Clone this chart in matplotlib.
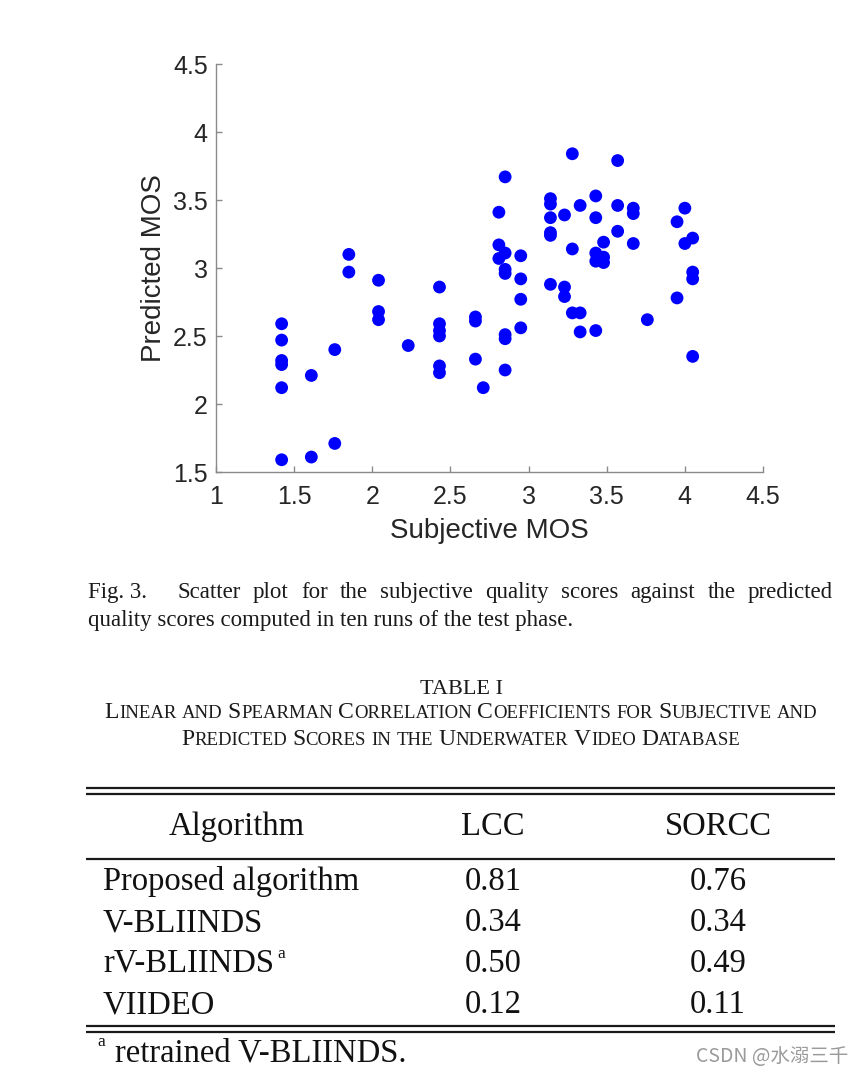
import matplotlib
matplotlib.use('Agg')
import matplotlib.pyplot as plt

# Scatter data
subjective_mos = [1.42, 1.42, 1.42, 1.42, 1.42, 1.42,
                  1.61, 1.61, 1.76, 1.76, 1.85, 1.85,
                  2.04, 2.04, 2.04, 2.23,
                  2.43, 2.43, 2.43, 2.43, 2.43, 2.43,
                  2.66, 2.66, 2.66, 2.71,
                  2.81, 2.81, 2.81,
                  2.85, 2.85, 2.85, 2.85, 2.85, 2.85, 2.85,
                  2.95, 2.95, 2.95, 2.95,
                  3.14, 3.14, 3.14, 3.14, 3.14, 3.14,
                  3.23, 3.23, 3.23, 3.28, 3.28, 3.28,
                  3.33, 3.33, 3.33,
                  3.43, 3.43, 3.43, 3.43, 3.43,
                  3.48, 3.48, 3.48, 3.57, 3.57, 3.57,
                  3.67, 3.67, 3.67, 3.76,
                  3.95, 3.95, 4.00, 4.00,
                  4.05, 4.05, 4.05, 4.05]
predicted_mos = [2.59, 2.47, 2.32, 2.29, 2.12, 1.59,
                 2.21, 1.61, 2.40, 1.71, 3.10, 2.97,
                 2.91, 2.68, 2.62, 2.43,
                 2.86, 2.59, 2.54, 2.50, 2.28, 2.23,
                 2.64, 2.61, 2.33, 2.12,
                 3.41, 3.17, 3.07,
                 3.67, 3.11, 2.99, 2.96, 2.51, 2.48, 2.25,
                 3.09, 2.92, 2.77, 2.56,
                 3.51, 3.47, 3.37, 3.26, 3.24, 2.88,
                 3.39, 2.86, 2.79, 3.84, 3.14, 2.67,
                 3.46, 2.67, 2.53,
                 3.53, 3.37, 3.11, 3.05, 2.54,
                 3.19, 3.08, 3.04, 3.79, 3.46, 3.27,
                 3.44, 3.40, 3.18, 2.62,
                 3.34, 2.78, 3.44, 3.18,
                 3.22, 2.97, 2.92, 2.35]

x_ticks = [1, 1.5, 2, 2.5, 3, 3.5, 4, 4.5]
y_ticks = [1.5, 2, 2.5, 3, 3.5, 4, 4.5]

# Table data
headers = ['Algorithm', 'LCC', 'SORCC']
algorithms = ['Proposed algorithm', 'V-BLIINDS', 'rV-BLIINDS', 'VIIDEO']
lcc = [0.81, 0.34, 0.50, 0.12]
sorcc = [0.76, 0.34, 0.49, 0.11]

caption_1 = 'Fig. 3. Scatter plot for the subjective quality scores against the predicted'
caption_2 = 'quality scores computed in ten runs of the test phase.'
sc_line_1 = 'Linear and Spearman Correlation Coefficients for Subjective and'
sc_line_2 = 'Predicted Scores in the Underwater Video Database'

W, H = 865, 1080
fig = plt.figure(figsize=(W / 100, H / 100), dpi=100)

# Scatter plot (MATLAB look)
sans = ['Liberation Sans', 'DejaVu Sans']
ax = fig.add_axes([216 / W, 1 - 472 / H, (763 - 216) / W, (472 - 64) / H])
ax.scatter(subjective_mos, predicted_mos, s=85, color='#0000ff', edgecolors='none', zorder=3)
ax.set_xlim(1, 4.5)
ax.set_ylim(1.5, 4.5)
ax.set_xticks(x_ticks)
ax.set_yticks(y_ticks)
ax.set_xticklabels([f'{t:g}' for t in x_ticks], family=sans, fontsize=18, color='#262626')
ax.set_yticklabels([f'{t:g}' for t in y_ticks], family=sans, fontsize=18, color='#262626')
for s in ['top', 'right']:
    ax.spines[s].set_visible(False)
for s in ['left', 'bottom']:
    ax.spines[s].set_color('#8a8a8a')
    ax.spines[s].set_linewidth(1.0)
ax.tick_params(direction='in', length=4, width=1.0, color='#8a8a8a')
ax.tick_params(axis='x', pad=9)
ax.tick_params(axis='y', pad=6)
ax.set_xlabel('Subjective MOS', family=sans, fontsize=20, color='#262626', labelpad=7)
ax.set_ylabel('Predicted MOS', family=sans, fontsize=20, color='#262626', labelpad=4)

# Overlay in pixel coordinates for caption and table
ov = fig.add_axes([0, 0, 1, 1])
ov.set_xlim(0, W)
ov.set_ylim(H, 0)
ov.axis('off')

serif = ['Liberation Serif', 'DejaVu Serif']
fig.canvas.draw()
renderer = fig.canvas.get_renderer()


def width_px(t):
    return t.get_window_extent(renderer).width


# Caption, first line justified between x=88 and x=833
cap_size = 16.5
words = caption_1.split(' ')
tokens = [words[0] + ' ' + words[1]] + words[2:]
texts = [ov.text(0, 598, w, family=serif, fontsize=cap_size, color='#1a1a1a', va='baseline')
         for w in tokens]
widths = [width_px(t) for t in texts]
first_gap = 18
gap = (833 - 88 - sum(widths) - first_gap) / (len(tokens) - 1)
x = 88
for i, (t, w) in enumerate(zip(texts, widths)):
    t.set_x(x)
    x += w + gap + (first_gap if i == 0 else 0)
ov.text(88, 626, caption_2, family=serif, fontsize=cap_size, color='#1a1a1a', va='baseline')

# Table title
ov.text(461, 694, 'TABLE I', family=serif, fontsize=16, color='#1a1a1a', ha='center', va='baseline')


def small_caps(line, cx, y, big, small):
    pieces = []
    for word in line.split(' '):
        if word[0].isupper():
            pieces.append([(word[0], big), (word[1:].upper(), small)])
        else:
            pieces.append([(word.upper(), small)])
    objs = []
    for word in pieces:
        grp = []
        for txt, size in word:
            t = ov.text(0, y, txt, family=serif, fontsize=size, color='#1a1a1a', va='baseline')
            grp.append((t, width_px(t)))
        objs.append(grp)
    space = big * 0.32
    total = sum(w for grp in objs for _, w in grp) + space * (len(objs) - 1)
    x = cx - total / 2
    for grp in objs:
        for t, w in grp:
            t.set_x(x)
            x += w
        x += space


small_caps(sc_line_1, 461, 718, 17, 13.5)
small_caps(sc_line_2, 461, 745, 17, 13.5)

# Table rules
rule_kw = dict(color='#1a1a1a', lw=1.6, solid_capstyle='butt')
for yy in [788, 794, 1026, 1032]:
    ov.plot([86, 835], [yy, yy], **rule_kw)
ov.plot([86, 835], [859, 859], **rule_kw)

col_x = [237, 493, 718]
tab_size = 23.5
for cx, h in zip(col_x, headers):
    ov.text(cx, 835, h, family=serif, fontsize=tab_size, color='#111111', ha='center', va='baseline')

row_y = [890, 931, 972, 1013]
for yy, name, a, b in zip(row_y, algorithms, lcc, sorcc):
    t = ov.text(103, yy, name, family=serif, fontsize=tab_size, color='#111111', va='baseline')
    if name == 'rV-BLIINDS':
        ov.text(103 + width_px(t) + 3, yy - 14, 'a', family=serif, fontsize=12.5,
                color='#111111', va='baseline')
    ov.text(col_x[1], yy, f'{a:.2f}', family=serif, fontsize=tab_size, color='#111111',
            ha='center', va='baseline')
    ov.text(col_x[2], yy, f'{b:.2f}', family=serif, fontsize=tab_size, color='#111111',
            ha='center', va='baseline')

# Footnote
ov.text(97, 1046, 'a', family=serif, fontsize=12.5, color='#111111', va='baseline')
ov.text(115, 1061, 'retrained V-BLIINDS.', family=serif, fontsize=tab_size, color='#111111',
        va='baseline')

# Watermark
ov.text(848, 1056, 'CSDN @水溺三千', family=['Noto Sans CJK SC', 'DejaVu Sans'], fontsize=14,
        color='#9a9a9a', ha='right', va='center')

fig.savefig('out.png', dpi=100)
